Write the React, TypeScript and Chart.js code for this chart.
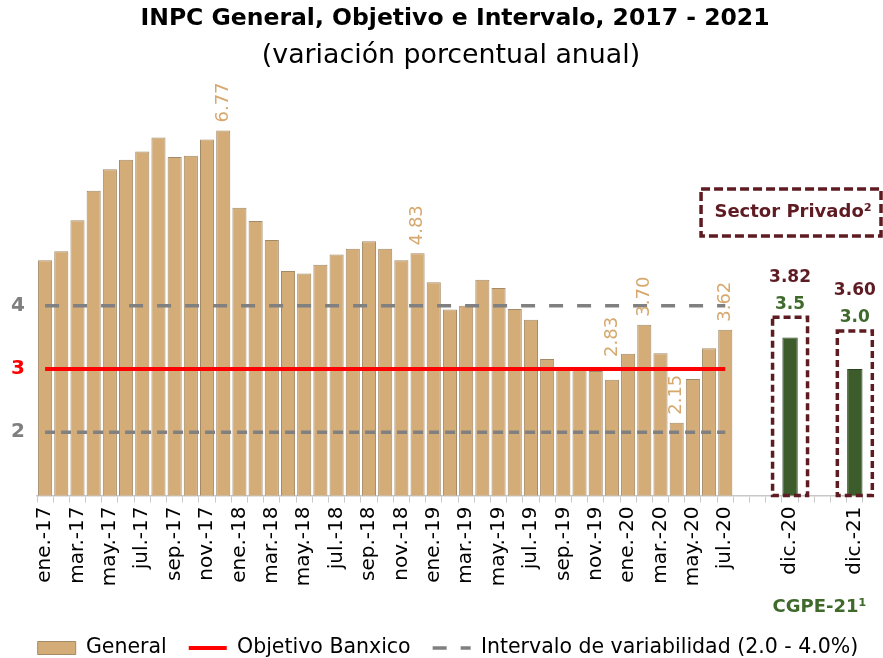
import React, { useEffect, useRef } from 'react';
import { Chart, registerables } from 'chart.js';

Chart.register(...registerables);

const FONT = "'DejaVu Sans', sans-serif";

const titleText = 'INPC General, Objetivo e Intervalo, 2017 - 2021';
const subtitleText = '(variación porcentual anual)';

const months = [
  'ene.-17', 'feb.-17', 'mar.-17', 'abr.-17', 'may.-17', 'jun.-17', 'jul.-17', 'ago.-17', 'sep.-17', 'oct.-17', 'nov.-17', 'dic.-17',
  'ene.-18', 'feb.-18', 'mar.-18', 'abr.-18', 'may.-18', 'jun.-18', 'jul.-18', 'ago.-18', 'sep.-18', 'oct.-18', 'nov.-18', 'dic.-18',
  'ene.-19', 'feb.-19', 'mar.-19', 'abr.-19', 'may.-19', 'jun.-19', 'jul.-19', 'ago.-19', 'sep.-19', 'oct.-19', 'nov.-19', 'dic.-19',
  'ene.-20', 'feb.-20', 'mar.-20', 'abr.-20', 'may.-20', 'jun.-20', 'jul.-20',
];

const generalValues = [
  4.72, 4.86, 5.35, 5.82, 6.16, 6.31, 6.44, 6.66, 6.35, 6.37, 6.63, 6.77,
  5.55, 5.34, 5.04, 4.55, 4.51, 4.65, 4.81, 4.90, 5.02, 4.90, 4.72, 4.83,
  4.37, 3.94, 4.00, 4.41, 4.28, 3.95, 3.78, 3.16, 3.00, 3.02, 2.97, 2.83,
  3.24, 3.70, 3.25, 2.15, 2.84, 3.33, 3.62,
];

const labeledMonths = ['dic.-17', 'dic.-18', 'dic.-19', 'feb.-20', 'abr.-20', 'jul.-20'];

const forecastSlots = ['', '', '', 'dic.-20', '', '', '', 'dic.-21'];
const cgpeValues = [null, null, null, 3.5, null, null, null, 3.0];
const privateSectorValues = [null, null, null, 3.82, null, null, null, 3.60];

const objetivoBanxico = 3;
const intervaloSuperior = 4;
const intervaloInferior = 2;
const yTickValues = [2, 3, 4];

const TAN = '#D3AC78';
const TAN_BORDER = '#A38A68';
const TAN_TEXT = '#D6A86E';
const GREEN = '#3D5C2B';
const GREEN_TEXT = '#3F6A2C';
const MAROON = '#5E1B22';
const GRAY = '#808080';

const categories = [...months, ...forecastSlots];
const generalData = [...generalValues, ...forecastSlots.map(() => null)];
const cgpeData = [...months.map(() => null), ...cgpeValues];
const constantLine = (v: number) => [...months.map(() => v), ...forecastSlots.map(() => null)];

const annotationPlugin = {
  id: 'annotations',
  afterLayout(chart: any) {
    const lg = chart.legend;
    if (lg) {
      lg.left += 15;
      lg.right += 15;
    }
  },
  afterDraw(chart: any) {
    const { ctx } = chart;
    ctx.save();
    ctx.textAlign = 'center';
    ctx.textBaseline = 'middle';
    ctx.fillStyle = '#000000';
    ctx.font = `bold 23.5px ${FONT}`;
    ctx.fillText(titleText, 455, 19);
    ctx.font = `26.8px ${FONT}`;
    ctx.fillText(subtitleText, 451, 56);
    ctx.restore();
  },
  afterDatasetsDraw(chart: any) {
    const { ctx, chartArea } = chart;
    const x = chart.scales.x;
    const y = chart.scales.y;
    const genMeta = chart.getDatasetMeta(0);
    const targetY = y.getPixelForValue(objetivoBanxico);
    ctx.save();

    // rotated value labels above selected bars
    ctx.font = `18px ${FONT}`;
    ctx.fillStyle = TAN_TEXT;
    ctx.textAlign = 'left';
    ctx.textBaseline = 'middle';
    labeledMonths.forEach((m) => {
      const i = months.indexOf(m);
      const el = genMeta.data[i];
      if (!el) return;
      const txt = generalValues[i].toFixed(2);
      const len = ctx.measureText(txt).width;
      let start = el.y - 8;
      if (start - len < targetY + 4 && start > targetY - 4) start = targetY - 12;
      ctx.save();
      ctx.translate(el.x, start);
      ctx.rotate(-Math.PI / 2);
      ctx.fillText(txt, 0, 0);
      ctx.restore();
    });

    // private sector dashed boxes + labels
    const slot = x.getPixelForValue(1) - x.getPixelForValue(0);
    const baseY = y.getPixelForValue(y.min);
    const cgpeMeta = chart.getDatasetMeta(1);
    privateSectorValues.forEach((v, k) => {
      if (v == null) return;
      const i = months.length + k;
      const el = cgpeMeta.data[i];
      const cx = el ? el.x : x.getPixelForValue(i);
      const top = y.getPixelForValue(v);
      const half = slot * 1.08;
      ctx.setLineDash([7, 4]);
      ctx.lineWidth = 3.5;
      ctx.strokeStyle = MAROON;
      ctx.strokeRect(cx - half, top, 2 * half, baseY - top);
      ctx.setLineDash([]);
      ctx.font = `bold 17px ${FONT}`;
      ctx.textAlign = 'center';
      ctx.textBaseline = 'middle';
      const g = cgpeValues[k];
      if (g != null) {
        ctx.fillStyle = GREEN_TEXT;
        ctx.fillText(g.toFixed(1), cx, top - 13);
      }
      ctx.fillStyle = MAROON;
      ctx.fillText(v.toFixed(2), cx, top - 40);
    });

    // "Sector Privado" box
    const firstF = months.length + privateSectorValues.findIndex((v) => v != null);
    const lastF = months.length + privateSectorValues.length - 1;
    const bx0 = x.getPixelForValue(firstF) - 89;
    const bx1 = chart.width - 2;
    const by0 = chartArea.top + 73;
    const by1 = chartArea.top + 120;
    ctx.setLineDash([9, 4]);
    ctx.lineWidth = 3.5;
    ctx.strokeStyle = MAROON;
    ctx.strokeRect(bx0, by0, bx1 - bx0, by1 - by0);
    ctx.setLineDash([]);
    ctx.font = `bold 18px ${FONT}`;
    ctx.fillStyle = MAROON;
    ctx.textAlign = 'center';
    ctx.textBaseline = 'middle';
    ctx.fillText('Sector Privado²', (bx0 + bx1) / 2 + 2, (by0 + by1) / 2);

    // CGPE label
    ctx.font = `bold 18px ${FONT}`;
    ctx.fillStyle = GREEN_TEXT;
    const cx = (x.getPixelForValue(firstF) + x.getPixelForValue(lastF)) / 2 - 3;
    ctx.fillText('CGPE-21¹', cx, chartArea.bottom + 112);

    ctx.restore();
  },
};

export default function App() {
  const canvasRef = useRef<HTMLCanvasElement | null>(null);

  useEffect(() => {
    if (!canvasRef.current) return;
    const chart = new Chart(canvasRef.current, {
      type: 'bar',
      data: {
        labels: categories,
        datasets: [
          {
            type: 'bar',
            label: 'General',
            data: generalData,
            backgroundColor: TAN,
            borderColor: TAN_BORDER,
            borderWidth: 1,
            barPercentage: 0.87,
            categoryPercentage: 1,
            grouped: false,
            order: 2,
            pointStyle: 'rect',
          } as any,
          {
            type: 'bar',
            label: 'CGPE-21',
            data: cgpeData,
            backgroundColor: GREEN,
            borderColor: '#2C4420',
            borderWidth: 1,
            barPercentage: 0.95,
            categoryPercentage: 1,
            grouped: false,
            order: 2,
            pointStyle: 'rect',
          } as any,
          {
            type: 'line',
            label: 'Objetivo Banxico',
            data: constantLine(objetivoBanxico),
            borderColor: '#FF0000',
            backgroundColor: '#FF0000',
            borderWidth: 4,
            pointRadius: 0,
            order: 0,
            pointStyle: 'line',
          } as any,
          {
            type: 'line',
            label: 'Intervalo de variabilidad (2.0 - 4.0%)',
            data: constantLine(intervaloSuperior),
            borderColor: GRAY,
            backgroundColor: GRAY,
            borderWidth: 3.5,
            borderDash: [14, 14],
            pointRadius: 0,
            order: 0,
            pointStyle: 'line',
          } as any,
          {
            type: 'line',
            label: 'Intervalo inferior',
            data: constantLine(intervaloInferior),
            borderColor: GRAY,
            backgroundColor: GRAY,
            borderWidth: 3.5,
            borderDash: [10, 6],
            pointRadius: 0,
            order: 0,
            pointStyle: 'line',
          } as any,
        ],
      },
      options: {
        animation: false,
        responsive: true,
        maintainAspectRatio: false,
        layout: { padding: { left: 0, right: 17, top: 116, bottom: -10.25 } },
        scales: {
          x: {
            offset: true,
            grid: {
              display: true,
              drawOnChartArea: false,
              drawTicks: true,
              tickLength: 7,
              color: '#C8C8C8',
              offset: true,
            },
            border: { display: true, color: '#C8C8C8', width: 1.5 },
            ticks: {
              autoSkip: false,
              maxRotation: 90,
              minRotation: 90,
              padding: 4,
              color: '#000000',
              font: { family: FONT, size: 20 },
              callback: (_v: any, index: number) => {
                const lbl = categories[index];
                if (index < months.length) return index % 2 === 0 ? lbl : '';
                return lbl;
              },
            },
            afterFit: (scale: any) => {
              scale.height = 120.25;
            },
          },
          y: {
            min: 1,
            max: 7,
            grid: { display: false, drawTicks: false },
            border: { display: false },
            afterBuildTicks: (scale: any) => {
              scale.ticks = yTickValues.map((v) => ({ value: v }));
            },
            ticks: {
              padding: 12,
              font: { family: FONT, size: 20, weight: 'bold' },
              color: (c: any) => (c.tick && c.tick.value === objetivoBanxico ? '#FF0000' : '#7F7F7F'),
            },
            afterFit: (scale: any) => {
              scale.width = 37;
            },
          },
        },
        plugins: {
          title: { display: false },
          subtitle: { display: false },
          legend: {
            display: true,
            position: 'bottom',
            labels: {
              usePointStyle: true,
              pointStyleWidth: 38,
              boxHeight: 13,
              padding: 22,
              color: '#000000',
              font: { family: FONT, size: 20.5 },
              filter: (item: any) => item.datasetIndex !== 1 && item.datasetIndex !== 4,
              sort: (a: any, b: any) => a.datasetIndex - b.datasetIndex,
              generateLabels: (c: any) => {
                const items = (Chart.defaults.plugins.legend.labels as any).generateLabels(c);
                return items.map((it: any) => {
                  const ds: any = c.data.datasets[it.datasetIndex];
                  if (ds.type === 'line') {
                    it.lineDash = ds.borderDash || [];
                    it.lineWidth = ds.borderWidth;
                    it.strokeStyle = ds.borderColor;
                    it.lineCap = 'butt';
                  }
                  return it;
                });
              },
            },
          },
          tooltip: { enabled: false },
        },
      },
      plugins: [annotationPlugin],
    });
    return () => chart.destroy();
  }, []);

  return (
    <div style={{ position: 'fixed', left: 0, top: 0, width: 883, height: 658, background: '#FFFFFF' }}>
      <canvas ref={canvasRef} />
    </div>
  );
}
